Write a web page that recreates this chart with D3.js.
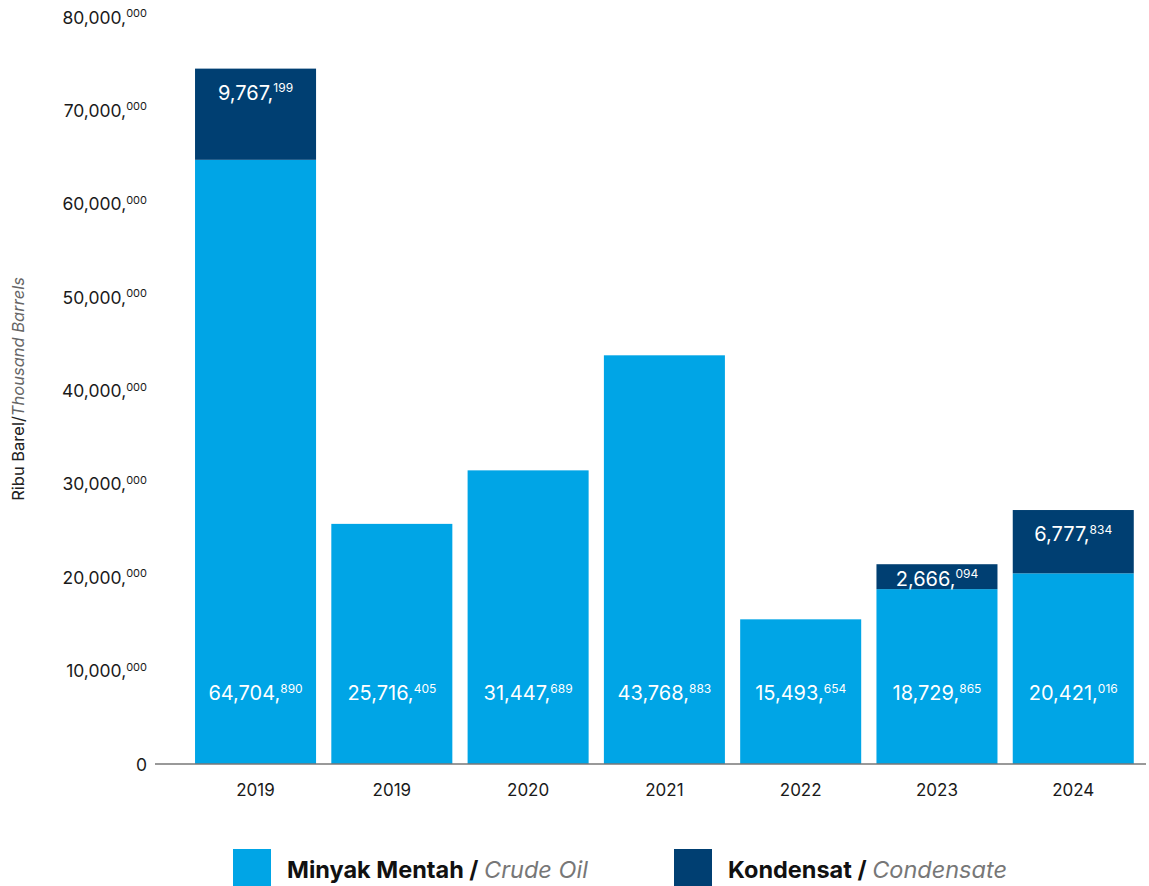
<!DOCTYPE html>
<html>
<head>
<meta charset="utf-8">
<script src="https://cdn.jsdelivr.net/npm/d3@7"></script>
<style>
  html, body { margin: 0; padding: 0; background: #fff; }
  svg { display: block; }
  text { font-family: Inter, "Noto Sans", sans-serif; }
</style>
</head>
<body>
<svg id="chart" width="1149" height="886"></svg>
<script>
// Production volumes (thousand barrels)
const years = ["2019", "2019", "2020", "2021", "2022", "2023", "2024"];
const crudeOil = [64704890, 25716405, 31447689, 43768883, 15493654, 18729865, 20421016];
const condensate = [9767199, 0, 0, 0, 0, 2666094, 6777834];
const yTicks = [0, 10000000, 20000000, 30000000, 40000000, 50000000, 60000000, 70000000, 80000000];

const colorCrude = "#00A5E6";
const colorCond = "#003F72";

const svg = d3.select("#chart");

const x = d3.scaleBand()
  .domain(d3.range(years.length))
  .range([187.4, 1141.4])
  .paddingInner(0.112)
  .paddingOuter(0.056);

const y = d3.scaleLinear().domain([0, 80000000]).range([764, 17]);

// Split a number into "main," part and trailing three-digit group
function splitNum(v) {
  const s = d3.format(",")(v);
  const i = s.lastIndexOf(",");
  if (i < 0) return [s, ""];
  return [s.slice(0, i + 1), s.slice(i + 1)];
}

function writeNum(sel, v, supSize, supRise) {
  const [main, sup] = splitNum(v);
  sel.append("tspan").text(main);
  if (sup) {
    sel.append("tspan").attr("font-size", supSize).attr("dy", -supRise).text(sup);
  }
}

// Y axis tick labels
const yAxisG = svg.append("g");
yTicks.forEach(t => {
  const txt = yAxisG.append("text")
    .attr("x", 147)
    .attr("y", y(t) + 6.5)
    .attr("text-anchor", "end")
    .attr("fill", "#1a1a1a")
    .attr("font-size", 17.5);
  writeNum(txt, t, 11, 6.5);
});

// Y axis title
const yTitle = svg.append("text")
  .attr("transform", `translate(24,389) rotate(-90)`)
  .attr("text-anchor", "middle")
  .attr("font-size", 16.5)
  .attr("font-family", "'Liberation Sans', Arial, sans-serif")
  .attr("fill", "#222");
yTitle.append("tspan").text("Ribu Barel/");
yTitle.append("tspan").attr("font-style", "italic").attr("fill", "#666").text("Thousand Barrels");

// Bars
const barG = svg.append("g");
years.forEach((yr, i) => {
  const bx = x(i), bw = x.bandwidth();
  barG.append("rect")
    .attr("x", bx).attr("width", bw)
    .attr("y", y(crudeOil[i]))
    .attr("height", y(0) - y(crudeOil[i]))
    .attr("fill", colorCrude);
  if (condensate[i] > 0) {
    const top = y(crudeOil[i] + condensate[i]);
    const bot = y(crudeOil[i]);
    barG.append("rect")
      .attr("x", bx).attr("width", bw)
      .attr("y", top)
      .attr("height", bot - top)
      .attr("fill", colorCond);
    const ly = Math.min(top + 31, (top + bot) / 2 + 9);
    const t = barG.append("text")
      .attr("x", bx + bw / 2).attr("y", ly)
      .attr("text-anchor", "middle")
      .attr("fill", "#fff")
      .attr("font-size", 20);
    writeNum(t, condensate[i], 12, 7.5);
  }
  const t2 = barG.append("text")
    .attr("x", bx + bw / 2).attr("y", 700)
    .attr("text-anchor", "middle")
    .attr("fill", "#fff")
    .attr("font-size", 20);
  writeNum(t2, crudeOil[i], 12, 7.5);
});

// Baseline
svg.append("line")
  .attr("x1", 155).attr("x2", 1146)
  .attr("y1", y(0)).attr("y2", y(0))
  .attr("stroke", "#777").attr("stroke-width", 1.5);

// X labels
years.forEach((yr, i) => {
  svg.append("text")
    .attr("x", x(i) + x.bandwidth() / 2)
    .attr("y", 796)
    .attr("text-anchor", "middle")
    .attr("font-size", 17)
    .attr("fill", "#1a1a1a")
    .text(yr);
});

// Legend
const legendItems = [
  { key: "Minyak Mentah /", en: "Crude Oil", color: colorCrude, x: 233 },
  { key: "Kondensat /", en: "Condensate", color: colorCond, x: 674 }
];
legendItems.forEach(d => {
  svg.append("rect").attr("x", d.x).attr("y", 849).attr("width", 38).attr("height", 37).attr("fill", d.color);
  const t = svg.append("text")
    .attr("x", d.x + 54).attr("y", 878)
    .attr("font-family", "Roboto, sans-serif")
    .attr("font-size", 23.5)
    .attr("fill", "#111");
  t.append("tspan").attr("font-weight", "bold").text(d.key + " ");
  t.append("tspan").attr("font-style", "italic").attr("fill", "#777").text(d.en);
});
</script>
</body>
</html>
